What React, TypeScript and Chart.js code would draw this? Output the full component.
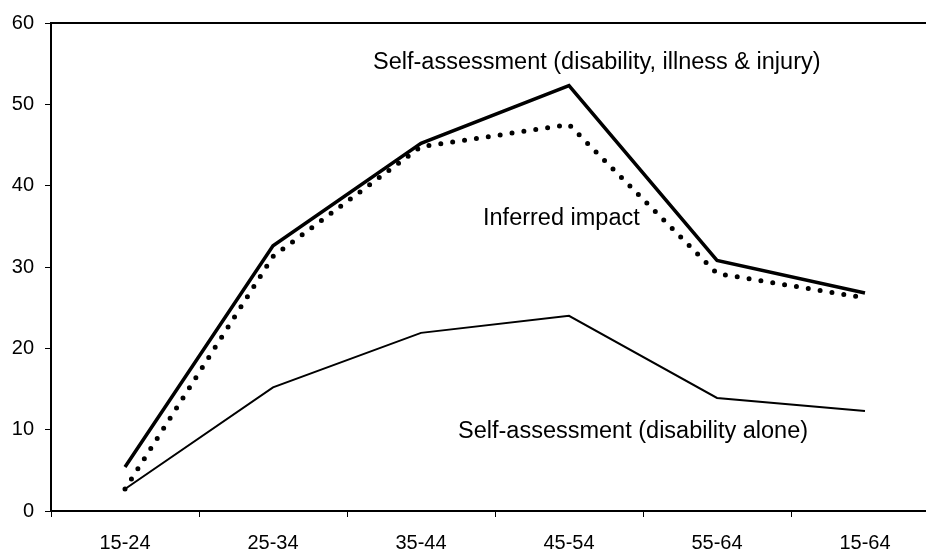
import React, { useEffect, useRef } from "react";
import { Chart, registerables } from "chart.js";

Chart.register(...registerables);

const categories = ["15-24", "25-34", "35-44", "45-54", "55-64", "15-64"];
const selfAssessAll = [5.4, 32.6, 45.2, 52.3, 30.8, 26.8];
const inferredImpact = [2.7, 31.3, 44.8, 47.5, 29.2, 26.2];
const selfAssessDisability = [2.7, 15.2, 21.9, 24.0, 13.9, 12.3];
const yTicks = [0, 10, 20, 30, 40, 50, 60];

const annotationTexts = [
  "Self-assessment (disability, illness & injury)",
  "Inferred impact",
  "Self-assessment (disability alone)",
];
const annotationX = [1.676, 2.419, 2.25];
const annotationY = [55.1, 36.0, 9.8];

const FONT = '"Liberation Sans", Arial, Helvetica, sans-serif';

const annotationPlugin = {
  id: "annotationsAndFrame",
  afterDatasetsDraw(chart: any) {
    const { ctx, chartArea, scales } = chart;
    ctx.save();
    // frame top & right
    ctx.strokeStyle = "#000";
    ctx.lineWidth = 2;
    ctx.beginPath();
    ctx.moveTo(chartArea.left, chartArea.top);
    ctx.lineTo(chartArea.right, chartArea.top);
    ctx.lineTo(chartArea.right, chartArea.bottom);
    ctx.stroke();
    ctx.fillStyle = "#000";
    ctx.font = `23.5px ${FONT}`;
    ctx.textAlign = "left";
    ctx.textBaseline = "middle";
    annotationTexts.forEach((t, i) => {
      const x = scales.x.getPixelForDecimal(
        (annotationX[i] + 0.5) / categories.length
      );
      const y = scales.y.getPixelForValue(annotationY[i]);
      ctx.fillText(t, x, y);
    });
    ctx.restore();
  },
};

export default function App() {
  const ref = useRef<HTMLCanvasElement>(null);
  useEffect(() => {
    if (!ref.current) return;
    const chart = new Chart(ref.current, {
      type: "line",
      data: {
        labels: categories,
        datasets: [
          {
            label: "Self-assessment (disability, illness & injury)",
            data: selfAssessAll,
            borderColor: "#000",
            borderWidth: 3.5,
            pointRadius: 0,
            tension: 0,
          },
          {
            label: "Self-assessment (disability alone)",
            data: selfAssessDisability,
            borderColor: "#000",
            borderWidth: 2,
            pointRadius: 0,
            tension: 0,
          },
          {
            label: "Inferred impact",
            data: inferredImpact,
            borderColor: "#000",
            borderWidth: 5,
            borderDash: [0, 12],
            borderCapStyle: "round",
            pointRadius: 0,
            tension: 0,
          },
        ],
      },
      options: {
        animation: false,
        responsive: false,
        maintainAspectRatio: false,
        layout: { padding: { left: 0, top: 20, right: 6, bottom: 0 } },
        plugins: {
          legend: { display: false },
          tooltip: { enabled: false },
          title: { display: false },
        },
        scales: {
          x: {
            type: "category",
            offset: true,
            grid: {
              offset: true,
              drawOnChartArea: false,
              drawTicks: true,
              tickLength: 6,
              color: "#000",
              lineWidth: 1,
            },
            border: { display: true, color: "#000", width: 2 },
            ticks: {
              color: "#000",
              font: { family: FONT, size: 20 },
              padding: 14,
              maxRotation: 0,
              autoSkip: false,
            },
            afterFit: (s: any) => {
              s.height = 40;
            },
          },
          y: {
            min: 0,
            max: 60,
            afterBuildTicks: (s: any) => {
              s.ticks = yTicks.map((v) => ({ value: v }));
            },
            grid: {
              drawOnChartArea: false,
              drawTicks: true,
              tickLength: 6,
              color: "#000",
              lineWidth: 1,
            },
            border: { display: true, color: "#000", width: 2 },
            ticks: {
              color: "#000",
              font: { family: FONT, size: 20 },
              padding: 11,
            },
            afterFit: (s: any) => {
              s.width = 51;
            },
          },
        },
      },
      plugins: [annotationPlugin],
    });
    return () => chart.destroy();
  }, []);
  return (
    <div
      style={{
        position: "fixed",
        left: 0,
        top: 0,
        width: 926,
        height: 551,
        overflow: "hidden",
        background: "#fff",
      }}
    >
      <canvas ref={ref} width={945} height={551} style={{ display: "block" }} />
    </div>
  );
}
